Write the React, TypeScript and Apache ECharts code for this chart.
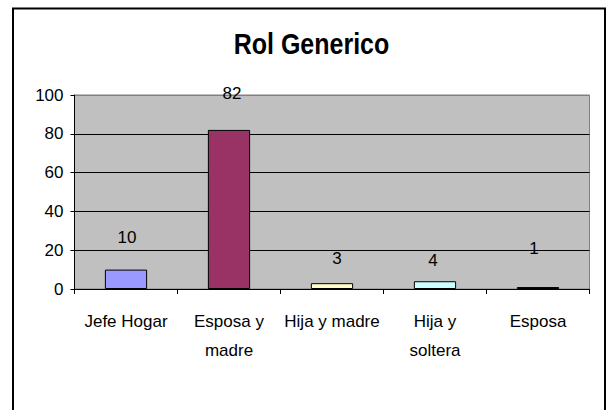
import React, { useEffect, useRef } from "react";
import * as echarts from "echarts";

const titleText = "Rol Generico";
const categories = ["Jefe Hogar", "Esposa y\nmadre", "Hija y madre", "Hija y\nsoltera", "Esposa"];
const values = [10, 82, 3, 4, 1];
const yTicks = { min: 0, max: 100, interval: 20 };

const barColors = ["#9999ff", "#993366", "#ffffcc", "#ccffff", "#660066"];
const labelOffsets = [
  [1, -24],
  [3, -28],
  [5, -16],
  [-2, -12],
  [-4, -30],
];

const FONT = "'Liberation Sans', Arial, sans-serif";

export default function App() {
  const ref = useRef<HTMLDivElement>(null);
  useEffect(() => {
    document.body.style.margin = "0";
    const chart = echarts.init(ref.current!, null, { renderer: "svg" });
    chart.setOption({
      animation: false,
      backgroundColor: "#ffffff",
      graphic: [
        {
          type: "rect",
          shape: { x: 13, y: 8.5, width: 592, height: 430 },
          style: { fill: "none", stroke: "#000", lineWidth: 2 },
          silent: true,
        },
        {
          type: "text",
          x: 311.5,
          y: 44,
          scaleX: 1,
          scaleY: 1.2,
          silent: true,
          style: {
            text: titleText,
            fontFamily: FONT,
            fontSize: 25,
            fontWeight: "bold",
            fill: "#000",
            align: "center",
            verticalAlign: "middle",
          },
        },
      ],
      grid: {
        left: 74.5,
        right: 22.5,
        top: 95,
        bottom: 121,
        show: true,
        backgroundColor: "#c0c0c0",
        borderColor: "#808080",
        borderWidth: 1,
      },
      xAxis: {
        type: "category",
        data: categories,
        boundaryGap: true,
        axisLine: { lineStyle: { color: "#000", width: 1 } },
        axisTick: { show: true, length: 5, lineStyle: { color: "#000" } },
        axisLabel: {
          color: "#000",
          fontFamily: FONT,
          fontSize: 17,
          lineHeight: 29,
          margin: 18,
          interval: 0,
        },
        splitLine: { show: false },
      },
      yAxis: {
        type: "value",
        min: yTicks.min,
        max: yTicks.max,
        interval: yTicks.interval,
        axisLine: { show: true, lineStyle: { color: "#000", width: 1 } },
        axisTick: { show: true, length: 4, lineStyle: { color: "#000" } },
        axisLabel: { color: "#000", fontFamily: FONT, fontSize: 17, margin: 11 },
        splitLine: {
          show: true,
          lineStyle: { color: ["#000", "#000", "#000", "#000", "#000", "#808080"], width: 1 },
        },
      },
      series: [
        {
          type: "bar",
          barWidth: "41%",
          data: values.map((v, i) => ({
            value: v,
            itemStyle: { color: barColors[i], borderColor: "#000", borderWidth: 1 },
            label: {
              show: true,
              position: "top",
              distance: 0,
              offset: labelOffsets[i],
              color: "#000",
              fontFamily: FONT,
              fontSize: 17,
            },
          })),
        },
      ],
    });
    return () => chart.dispose();
  }, []);
  return <div ref={ref} style={{ width: 612, height: 410 }} />;
}
